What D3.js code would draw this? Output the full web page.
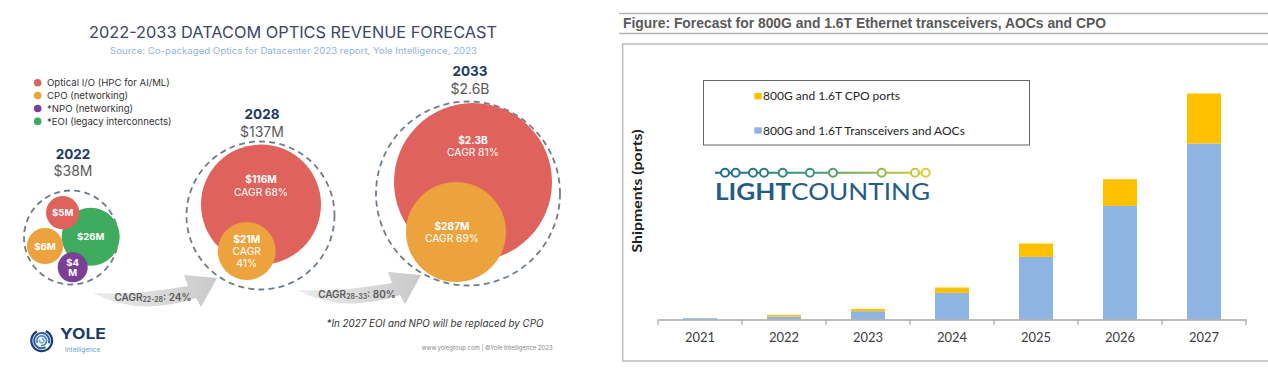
<!DOCTYPE html>
<html><head><meta charset="utf-8">
<script src="https://cdn.jsdelivr.net/npm/d3@7"></script>
<style>body{margin:0;background:#fff;} svg{display:block}</style>
</head><body>
<svg id="c" width="1268" height="391"></svg>
<script>
// ================= DATA =================
// Left panel (Yole Intelligence)
const forecastYears   = ['2022', '2028', '2033'];
const forecastTotals  = ['$38M', '$137M', '$2.6B'];
const segmentNames    = ['Optical I/O (HPC for AI/ML)', 'CPO (networking)', '*NPO (networking)', '*EOI (legacy interconnects)'];
const values2022      = [5, 6, 4, 26];      // $M : Optical I/O, CPO, NPO, EOI
const values2028      = [116, 21];          // $M : Optical I/O, CPO
const values2033      = [2300, 287];        // $M : Optical I/O, CPO
const cagr2028        = [68, 41];           // %
const cagr2033        = [81, 69];           // %
const cagrPeriods     = ['22-28', '28-33'];
const cagrValues      = [24, 80];           // %
// Right panel (LightCounting)
const shipYears        = ['2021', '2022', '2023', '2024', '2025', '2026', '2027'];
const transceiverPorts = [0.13, 0.30, 0.83, 2.66, 6.26, 11.36, 17.6];
const cpoPorts         = [0.00, 0.16, 0.23, 0.54, 1.34, 2.67, 5.0];
const shipSeries       = ['800G and 1.6T CPO ports', '800G and 1.6T Transceivers and AOCs'];

// ================= STYLE / LAYOUT =================
const segColors = ['#e0625c', '#eca33e', '#7c3f96', '#3fab5f'];
const F = 'Inter, "Noto Sans", sans-serif';
const svg = d3.select('#c');
const defs = svg.append('defs');

// ---------------- LEFT PANEL ----------------
svg.append('text').attr('x', 293).attr('y', 31.7).attr('text-anchor', 'middle')
  .attr('dominant-baseline', 'central').attr('font-family', F).attr('font-size', 16)
  .attr('fill', '#3b4566').attr('textLength', 408).attr('lengthAdjust', 'spacingAndGlyphs')
  .text('2022-2033 DATACOM OPTICS REVENUE FORECAST');
svg.append('text').attr('x', 293.5).attr('y', 50).attr('text-anchor', 'middle')
  .attr('dominant-baseline', 'central').attr('font-family', F).attr('font-size', 9)
  .attr('fill', '#8db6dc').attr('textLength', 367).attr('lengthAdjust', 'spacingAndGlyphs')
  .text('Source: Co-packaged Optics for Datacenter 2023 report, Yole Intelligence, 2023');

// legend
const lg = svg.append('g').attr('transform', 'translate(37.7,82.7)');
segmentNames.forEach((n, i) => {
  const g = lg.append('g').attr('transform', `translate(0,${i * 12.9})`);
  g.append('circle').attr('r', 3.8).attr('fill', segColors[i]);
  g.append('text').attr('x', 9.3).attr('dominant-baseline', 'central').attr('font-family', F)
    .attr('font-size', 9.6).attr('fill', '#333').text(n);
});

const fmt = v => v >= 1000 ? `$${v / 1000}B` : `$${v}M`;
const clusters = [
  { year: forecastYears[0], total: forecastTotals[0], values: values2022, cagr: null,
    cx: 71, cy: 237.5, r: 47, rRange: [15, 29], hx: 73, hy: [154, 170.3],
    off: [[-8.3, -24.8], [-26, 8.5], [1.7, 29.8], [19.7, -0.8]], ldy: [0, 0, 0, 0], ldx: [0, 0, 0, 0] },
  { year: forecastYears[1], total: forecastTotals[1], values: values2028, cagr: cagr2028,
    cx: 260.5, cy: 215.5, r: 74, rRange: [29, 60], hx: 262, hy: [114, 131],
    off: [[0.5, -11], [-13.8, 35.5]], ldy: [-19, 0], ldx: [0, 0] },
  { year: forecastYears[2], total: forecastTotals[2], values: values2033, cagr: cagr2033,
    cx: 468, cy: 193.5, r: 92, rRange: [50, 79], hx: 470, hy: [70.7, 88.3],
    off: [[5, -11.5], [-12, 38.5]], ldy: [-36, 0], ldx: [0, -4] }
];

// arrows (drawn first, behind)
const grad = defs.append('linearGradient').attr('id', 'arrG').attr('x1', 0).attr('x2', 1).attr('y1', 0).attr('y2', 0);
grad.append('stop').attr('offset', 0).attr('stop-color', '#ececec');
grad.append('stop').attr('offset', 1).attr('stop-color', '#c9c9c9');
const arrowPath = 'M0,0 Q45,2 95,-7 L91,-18 L124,-15 L108,14 L103,5 Q45,24 0,0 Z';
const arrowTails = [[93, 293], [297, 290]];
arrowTails.forEach((t, i) => {
  const g = svg.append('g').attr('transform', `translate(${t[0]},${t[1]})`);
  g.append('path').attr('d', arrowPath).attr('fill', 'url(#arrG)');
  const tx = g.append('text').attr('x', 60).attr('y', 3.7).attr('text-anchor', 'middle')
    .attr('dominant-baseline', 'central').attr('font-family', F).attr('font-size', 10)
    .attr('font-weight', 600).attr('fill', '#595959');
  tx.append('tspan').text('CAGR');
  tx.append('tspan').attr('font-size', 7).attr('dy', 2.5).text(cagrPeriods[i]);
  tx.append('tspan').attr('dy', -2.5).text(`: ${cagrValues[i]}%`);
});

clusters.forEach(c => {
  const g = svg.append('g');
  g.append('text').attr('x', c.hx).attr('y', c.hy[0]).attr('text-anchor', 'middle')
    .attr('dominant-baseline', 'central').attr('font-family', F).attr('font-size', 13.5)
    .attr('font-weight', 700).attr('fill', '#203a66').text(c.year);
  g.append('text').attr('x', c.hx).attr('y', c.hy[1]).attr('text-anchor', 'middle')
    .attr('dominant-baseline', 'central').attr('font-family', F).attr('font-size', 14)
    .attr('fill', '#5b5b5b').text(c.total);
  g.append('circle').attr('cx', c.cx).attr('cy', c.cy).attr('r', c.r).attr('fill', 'none')
    .attr('stroke', '#6e7d8c').attr('stroke-width', 1.8).attr('stroke-dasharray', '6 4.2');
  const rs = d3.scaleLog().domain(d3.extent(c.values)).range(c.rRange);
  const items = c.values.map((v, i) => ({ v, i })).sort((a, b) => b.v - a.v);
  items.forEach(({ v, i }) => {
    const bx = c.cx + c.off[i][0], by = c.cy + c.off[i][1], r = rs(v);
    g.append('circle').attr('cx', bx).attr('cy', by).attr('r', r).attr('fill', segColors[i]);
    let lines;
    if (c.cagr) {
      lines = r < 35 ? [[fmt(v), 700], ['CAGR', 500], [`${c.cagr[i]}%`, 500]]
                     : [[fmt(v), 700], [`CAGR ${c.cagr[i]}%`, 500]];
    } else {
      lines = r < 16 ? [[fmt(v).replace('M', ''), 700], ['M', 700]] : [[fmt(v), 700]];
    }
    const lh = c.cagr ? 12.2 : 10.6;
    lines.forEach((l, k) => {
      g.append('text').attr('x', bx + c.ldx[i]).attr('y', by + c.ldy[i] + (k - (lines.length - 1) / 2) * lh)
        .attr('text-anchor', 'middle').attr('dominant-baseline', 'central').attr('font-family', F)
        .attr('font-size', c.cagr ? 10.2 : 9.6).attr('font-weight', l[1]).attr('fill', '#fff')
        .attr('fill-opacity', l[1] === 700 ? 1 : 0.92).text(l[0]);
    });
  });
});

svg.append('text').attr('x', 435).attr('y', 323.3).attr('text-anchor', 'middle')
  .attr('dominant-baseline', 'central').attr('font-family', F).attr('font-size', 10)
  .attr('font-style', 'italic').attr('fill', '#333').attr('textLength', 217).attr('lengthAdjust', 'spacingAndGlyphs')
  .text('*In 2027 EOI and NPO will be replaced by CPO');
svg.append('text').attr('x', 421.7).attr('y', 347.3).attr('dominant-baseline', 'central')
  .attr('font-family', F).attr('font-size', 6).attr('fill', '#888')
  .attr('textLength', 131).attr('lengthAdjust', 'spacingAndGlyphs')
  .text('www.yolegroup.com | ©Yole Intelligence 2023');

// Yole logo
const yl = svg.append('g').attr('transform', 'translate(41.7,340.7)');
const ringArc = d3.arc();
[{ r: 11.5, w: 2.2, a0: 0.4, a1: 5.8, c: '#1d3c72' }, { r: 8.6, w: 2, a0: 2.6, a1: 8.2, c: '#2f5f9e' },
 { r: 5.8, w: 1.8, a0: 4.2, a1: 9.6, c: '#4a86cc' }, { r: 3, w: 1.6, a0: 0, a1: 5.2, c: '#6ea6e0' }]
  .forEach(d => yl.append('path').attr('fill', d.c)
    .attr('d', ringArc({ innerRadius: d.r - d.w, outerRadius: d.r, startAngle: d.a0, endAngle: d.a1 })));
svg.append('text').attr('x', 60).attr('y', 333.5).attr('dominant-baseline', 'central')
  .attr('font-family', F).attr('font-size', 15).attr('font-weight', 700).attr('fill', '#1c3a6c')
  .attr('textLength', 46).attr('lengthAdjust', 'spacingAndGlyphs').text('YOLE');
svg.append('text').attr('x', 65).attr('y', 350).attr('dominant-baseline', 'central')
  .attr('font-family', F).attr('font-size', 6.5).attr('fill', '#5f9bd8').text('Intelligence');

// ---------------- RIGHT PANEL ----------------
[13.5, 33.5].forEach(yy => svg.append('line').attr('x1', 619).attr('x2', 1268).attr('y1', yy).attr('y2', yy)
  .attr('stroke', '#b3b3b3').attr('stroke-width', 1.6));
svg.append('text').attr('x', 623).attr('y', 23.3).attr('dominant-baseline', 'central')
  .attr('font-family', '"Liberation Sans", Arial, sans-serif').attr('font-size', 14).attr('font-weight', 700)
  .attr('fill', '#595959').attr('textLength', 483).attr('lengthAdjust', 'spacingAndGlyphs')
  .text('Figure: Forecast for 800G and 1.6T Ethernet transceivers, AOCs and CPO');
svg.append('rect').attr('x', 622.7).attr('y', 44).attr('width', 700).attr('height', 317)
  .attr('fill', 'none').attr('stroke', '#bdbdbd').attr('stroke-width', 1.5);

const L = 'Lato, "Open Sans", sans-serif';
svg.append('text').attr('transform', 'translate(636,191) rotate(-90)').attr('text-anchor', 'middle')
  .attr('dominant-baseline', 'central').attr('font-family', L).attr('font-size', 14).attr('font-weight', 700)
  .attr('fill', '#222').attr('textLength', 123).attr('lengthAdjust', 'spacingAndGlyphs').text('Shipments (ports)');

const x = d3.scaleBand().domain(shipYears).range([658, 1246]).paddingInner(50 / 84).paddingOuter(25 / 84);
const y = d3.scaleLinear().domain([0, 25]).range([319.5, 69.5]);
const rows = shipYears.map((yr, i) => ({ yr, trans: transceiverPorts[i], cpo: cpoPorts[i] }));
const stacked = d3.stack().keys(['trans', 'cpo'])(rows);
const barColors = { trans: '#8db4e2', cpo: '#ffc000' };

svg.append('g').selectAll('g').data(stacked).join('g').attr('fill', d => barColors[d.key])
  .selectAll('rect').data(d => d).join('rect')
  .attr('x', d => x(d.data.yr)).attr('width', x.bandwidth())
  .attr('y', d => y(d[1])).attr('height', d => Math.max(0, y(d[0]) - y(d[1])));

const ax = svg.append('g').attr('transform', `translate(0,${y(0)})`)
  .call(d3.axisBottom(x).tickSize(0).tickSizeOuter(0).tickPadding(13));
ax.select('.domain').attr('stroke', '#a6a6a6').attr('stroke-width', 1.3);
ax.selectAll('text').attr('font-family', L).attr('font-size', 13).attr('fill', '#404040');
const gap = (x.step() - x.bandwidth()) / 2;
const bounds = shipYears.map(d => x(d) - gap).concat([x(shipYears[shipYears.length - 1]) + x.bandwidth() + gap]);
ax.selectAll('line.bt').data(bounds).join('line').attr('class', 'bt')
  .attr('x1', d => d).attr('x2', d => d).attr('y1', 0).attr('y2', 5.5)
  .attr('stroke', '#a6a6a6').attr('stroke-width', 1.2);

// legend
svg.append('rect').attr('x', 703.5).attr('y', 80.5).attr('width', 326).attr('height', 64.5)
  .attr('fill', '#fff').attr('stroke', '#666').attr('stroke-width', 1);
[['cpo', 95.7], ['trans', 130]].forEach((d, i) => {
  svg.append('rect').attr('x', 754.3).attr('y', d[1] - 2.7).attr('width', 7.5).attr('height', 6.3)
    .attr('fill', barColors[d[0]]);
  svg.append('text').attr('x', 763).attr('y', d[1]).attr('dominant-baseline', 'central')
    .attr('font-family', L).attr('font-size', 12).attr('fill', '#262626').text(shipSeries[i]);
});

// LightCounting logo
const lcg = defs.append('linearGradient').attr('id', 'lcG').attr('gradientUnits', 'userSpaceOnUse')
  .attr('x1', 715).attr('x2', 930).attr('y1', 0).attr('y2', 0);
lcg.append('stop').attr('offset', 0).attr('stop-color', '#1c6a92');
lcg.append('stop').attr('offset', 0.45).attr('stop-color', '#3f9a72');
lcg.append('stop').attr('offset', 1).attr('stop-color', '#dcd232');
const lcY = 172.7;
svg.append('line').attr('x1', 715).attr('x2', 930).attr('y1', lcY).attr('y2', lcY)
  .attr('stroke', 'url(#lcG)').attr('stroke-width', 2);
const lcDots = [725, 735.7, 753, 764, 782.7, 810, 833, 881.7, 915, 925.7];
const lcColor = d3.scaleLinear().domain([715, 820, 930]).range(['#1c6a92', '#3f9a72', '#dcd232']);
lcDots.forEach(dx => svg.append('circle').attr('cx', dx).attr('cy', lcY).attr('r', 4)
  .attr('fill', '#fff').attr('stroke', lcColor(dx)).attr('stroke-width', 2));
const lct = svg.append('text').attr('x', 715).attr('y', 200).attr('font-family', L).attr('font-size', 23.5)
  .attr('fill', '#245b87').attr('textLength', 215).attr('lengthAdjust', 'spacingAndGlyphs');
lct.append('tspan').attr('font-weight', 700).text('LIGHT');
lct.append('tspan').attr('font-weight', 400).text('COUNTING');
</script>
</body></html>
